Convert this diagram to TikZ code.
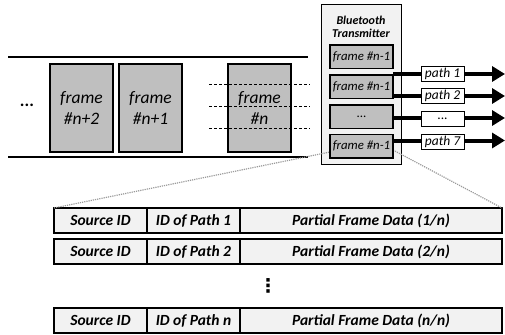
\documentclass[tikz,border=0pt]{standalone}
\usepackage{fontspec}
\setmainfont{Carlito}
\newfontfamily\dejavu{DejaVu Sans}
\usetikzlibrary{arrows.meta}
\definecolor{framegray}{HTML}{BFBFBF}
\definecolor{lightfill}{HTML}{F2F2F2}
\definecolor{dotgray}{HTML}{9A9A9A}
\tikzset{
  bigframe/.style={draw, line width=1.3pt, fill=framegray, inner sep=0pt, outer sep=0pt,
    minimum width=63pt, minimum height=88pt, anchor=north west, align=center,
    font=\fontsize{17.5}{21}\selectfont\itshape},
  txbox/.style={draw, line width=1pt, fill=lightfill, inner sep=0pt, outer sep=0pt, anchor=north west},
  smallframe/.style={draw, line width=1.2pt, fill=framegray, inner sep=0pt, outer sep=0pt,
    minimum width=63pt, minimum height=23.5pt, anchor=north west,
    font=\fontsize{12.8}{14}\selectfont\itshape},
  pathlabel/.style={draw, line width=0.8pt, fill=white, inner sep=0pt, outer sep=0pt,
    minimum width=43pt, minimum height=15pt, font=\fontsize{13.5}{15}\selectfont\itshape},
  patharrow/.style={line width=4pt, -{Triangle[length=13pt,width=15pt]}},
  cell/.style={draw, line width=1.3pt, fill=lightfill, inner sep=0pt, outer sep=0pt,
    minimum height=25pt, anchor=north west, font=\fontsize{15.5}{17}\selectfont\bfseries\itshape},
  zoomline/.style={dotgray, line width=1.2pt, densely dotted},
  rail/.style={line width=1.8pt},
  gridline/.style={line width=0.8pt, dashed, dash pattern=on 3pt off 2pt}
}
\begin{document}
\begin{tikzpicture}[x=1pt,y=-1pt]
\useasboundingbox (0,0) rectangle (505,334);
% rails
\coordinate (r1a) at (8,57);
\coordinate (r1b) at (308,57);
\coordinate (r2a) at (8,157);
\coordinate (r2b) at (308,157);
\draw[rail] (r1a) -- (r1b);
\draw[rail] (r2a) -- (r2b);
\node[font=\fontsize{17.5}{21}\selectfont\bfseries] (dots) at (27,105) {...};
\node[bigframe] (f2) at (50,64) {frame\\\#n+2};
\node[bigframe] (f1) at (119,64) {frame\\\#n+1};
\node[bigframe] (f0) at (228,64) {frame\\\#n};
% dashed lines
\foreach \y/\n in {84/a,106/b,128/c}{
  \coordinate (d\n1) at (209,\y);
  \coordinate (d\n2) at (310,\y);
  \draw[gridline] (d\n1) -- (d\n2);
}
% transmitter
\node[txbox, minimum width=80pt, minimum height=159pt] (tx) at (321,5) {};
\node[font=\fontsize{12}{13}\selectfont\bfseries\itshape, align=center] (txt) at (361,26.5) {Bluetooth\\Transmitter};
% table
\node[cell, minimum width=93pt] (s1) at (54,208) {Source ID};
\node[cell, minimum width=93pt] (p1) at (147,208) {ID of Path 1};
\node[cell, minimum width=262pt] (d1) at (240,208) {Partial Frame Data (1/n)};
\node[cell, minimum width=93pt] (s2) at (54,239) {Source ID};
\node[cell, minimum width=93pt] (p2) at (147,239) {ID of Path 2};
\node[cell, minimum width=262pt] (d2) at (240,239) {Partial Frame Data (2/n)};
\node[cell, minimum width=93pt] (s3) at (54,308) {Source ID};
\node[cell, minimum width=93pt] (p3) at (147,308) {ID of Path n};
\node[cell, minimum width=262pt] (d3) at (240,308) {Partial Frame Data (n/n)};
\node[font=\fontsize{19}{20}\selectfont\dejavu\bfseries, inner sep=0pt] (vdots) at (268,285.5) {⋮};
% zoom lines
\coordinate (zl) at (330,152);
\coordinate (zr) at (393,150);
\draw[zoomline] (s1.north west) -- (zl);
\draw[zoomline] (zr) -- (d1.north east);
% frames in transmitter
\node[smallframe] (t1) at (330,45) {frame \#n-1};
\node[smallframe] (t2) at (330,75) {frame \#n-1};
\node[smallframe, font=\fontsize{12.8}{14}\selectfont] (t3) at (330,105) {...};
\node[smallframe] (t4) at (330,134.5) {frame \#n-1};
% arrows
\foreach \y/\n in {74/1,96/2,118/3,140.5/7}{
  \coordinate (as\n) at (393,\y);
  \coordinate (ae\n) at (505,\y);
  \draw[patharrow] (as\n) -- (ae\n);
}
\node[pathlabel] (pl1) at (442.5,74) {path 1};
\node[pathlabel] (pl2) at (442.5,96) {path 2};
\node[pathlabel, font=\fontsize{13.5}{15}\selectfont] (pl3) at (442.5,118.5) {...};
\node[pathlabel] (pl7) at (442.5,141.5) {path 7};
\end{tikzpicture}
\end{document}
